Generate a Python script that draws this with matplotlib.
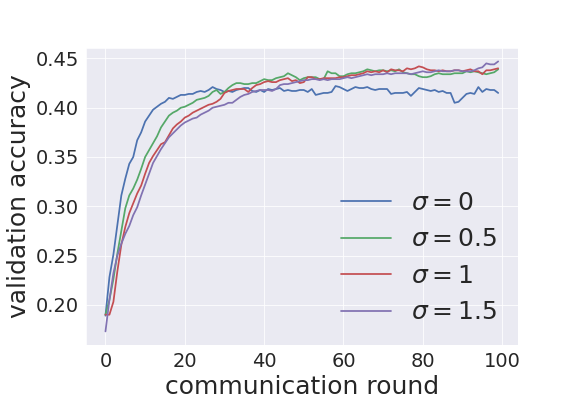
import matplotlib
matplotlib.use("Agg")
from matplotlib import pyplot as plt
import seaborn as sns
import numpy as np

# validation accuracy per communication round
rounds = np.arange(100)

acc_sigma0 = [
    0.189, 0.228, 0.251, 0.281, 0.311, 0.328, 0.343, 0.350, 0.367, 0.375,
    0.386, 0.392, 0.398, 0.401, 0.404, 0.406, 0.410, 0.409, 0.411, 0.413,
    0.413, 0.414, 0.414, 0.416, 0.417, 0.416, 0.418, 0.421, 0.419, 0.418,
    0.416, 0.417, 0.416, 0.418, 0.419, 0.420, 0.420, 0.417, 0.416, 0.418,
    0.416, 0.419, 0.418, 0.419, 0.420, 0.417, 0.418, 0.417, 0.417, 0.418,
    0.418, 0.416, 0.419, 0.413, 0.414, 0.415, 0.415, 0.416, 0.422, 0.421,
    0.419, 0.417, 0.419, 0.421, 0.420, 0.420, 0.421, 0.419, 0.418, 0.419,
    0.419, 0.419, 0.414, 0.415, 0.415, 0.415, 0.416, 0.412, 0.416, 0.420,
    0.419, 0.418, 0.417, 0.418, 0.416, 0.417, 0.415, 0.415, 0.405, 0.406,
    0.410, 0.414, 0.415, 0.414, 0.421, 0.416, 0.419, 0.418, 0.418, 0.415,
]

acc_sigma05 = [
    0.190, 0.205, 0.226, 0.252, 0.275, 0.298, 0.311, 0.318, 0.327, 0.338,
    0.350, 0.357, 0.364, 0.371, 0.380, 0.386, 0.392, 0.395, 0.397, 0.400,
    0.401, 0.403, 0.405, 0.408, 0.409, 0.410, 0.412, 0.416, 0.418, 0.414,
    0.416, 0.420, 0.423, 0.425, 0.425, 0.424, 0.424, 0.425, 0.425, 0.427,
    0.429, 0.428, 0.428, 0.430, 0.431, 0.432, 0.435, 0.433, 0.431, 0.428,
    0.430, 0.431, 0.431, 0.431, 0.429, 0.429, 0.437, 0.435, 0.435, 0.432,
    0.432, 0.434, 0.435, 0.435, 0.436, 0.437, 0.439, 0.438, 0.437, 0.438,
    0.438, 0.437, 0.438, 0.437, 0.439, 0.436, 0.435, 0.434, 0.434, 0.432,
    0.431, 0.431, 0.432, 0.434, 0.435, 0.434, 0.434, 0.434, 0.435, 0.435,
    0.435, 0.437, 0.436, 0.437, 0.436, 0.435, 0.434, 0.435, 0.436, 0.439,
]

acc_sigma1 = [
    0.190, 0.190, 0.203, 0.234, 0.261, 0.279, 0.293, 0.303, 0.313, 0.321,
    0.333, 0.344, 0.351, 0.357, 0.363, 0.365, 0.372, 0.379, 0.383, 0.386,
    0.390, 0.392, 0.395, 0.397, 0.399, 0.401, 0.403, 0.404, 0.406, 0.409,
    0.415, 0.417, 0.418, 0.419, 0.419, 0.419, 0.416, 0.420, 0.423, 0.424,
    0.426, 0.427, 0.426, 0.426, 0.428, 0.429, 0.430, 0.427, 0.428, 0.425,
    0.426, 0.431, 0.431, 0.429, 0.429, 0.430, 0.430, 0.430, 0.430, 0.431,
    0.431, 0.432, 0.433, 0.433, 0.434, 0.435, 0.437, 0.436, 0.437, 0.436,
    0.438, 0.436, 0.439, 0.438, 0.438, 0.437, 0.440, 0.439, 0.440, 0.442,
    0.441, 0.439, 0.438, 0.438, 0.437, 0.438, 0.437, 0.437, 0.438, 0.438,
    0.437, 0.438, 0.439, 0.437, 0.437, 0.434, 0.438, 0.438, 0.439, 0.440,
]

acc_sigma15 = [
    0.173, 0.205, 0.232, 0.250, 0.262, 0.272, 0.280, 0.291, 0.299, 0.311,
    0.322, 0.333, 0.344, 0.351, 0.358, 0.364, 0.370, 0.374, 0.378, 0.382,
    0.385, 0.387, 0.389, 0.390, 0.393, 0.395, 0.397, 0.400, 0.401, 0.402,
    0.403, 0.405, 0.405, 0.408, 0.411, 0.413, 0.414, 0.416, 0.417, 0.418,
    0.418, 0.418, 0.417, 0.419, 0.423, 0.424, 0.424, 0.425, 0.426, 0.427,
    0.428, 0.428, 0.429, 0.429, 0.428, 0.429, 0.428, 0.429, 0.429, 0.429,
    0.430, 0.431, 0.430, 0.431, 0.432, 0.433, 0.434, 0.433, 0.434, 0.434,
    0.434, 0.435, 0.434, 0.435, 0.435, 0.435, 0.435, 0.434, 0.435, 0.436,
    0.437, 0.436, 0.436, 0.437, 0.438, 0.437, 0.437, 0.437, 0.438, 0.438,
    0.437, 0.437, 0.437, 0.438, 0.440, 0.441, 0.445, 0.444, 0.444, 0.447,
]

series = [acc_sigma0, acc_sigma05, acc_sigma1, acc_sigma15]
labels = [r'$\sigma=0$', r'$\sigma=0.5$', r'$\sigma=1$', r'$\sigma=1.5$']
colors = ['#4C72B0', '#55A868', '#C44E52', '#8172B2']

sns.set_style("darkgrid")
plt.rcParams['font.family'] = ['DejaVu Sans']

fig = plt.figure(figsize=(8, 5.5), dpi=72)
ax = fig.add_axes([0.149, 0.129, 0.75, 0.75])

for acc, lab, c in zip(series, labels, colors):
    ax.plot(rounds, acc, label=lab, color=c, lw=1.75)

ax.set_xlabel("communication round", fontsize=25, color='#262626', labelpad=4)
ax.set_ylabel("validation accuracy", fontsize=25, color='#262626')
ax.tick_params(labelsize=19.5, colors='#262626')
ax.set_xticks([0, 20, 40, 60, 80, 100])

ax.legend(loc='lower right', fontsize=25, frameon=False, handlelength=2.0,
          labelspacing=0.5, borderaxespad=0.42)

fig.savefig("out.png", dpi=72)
